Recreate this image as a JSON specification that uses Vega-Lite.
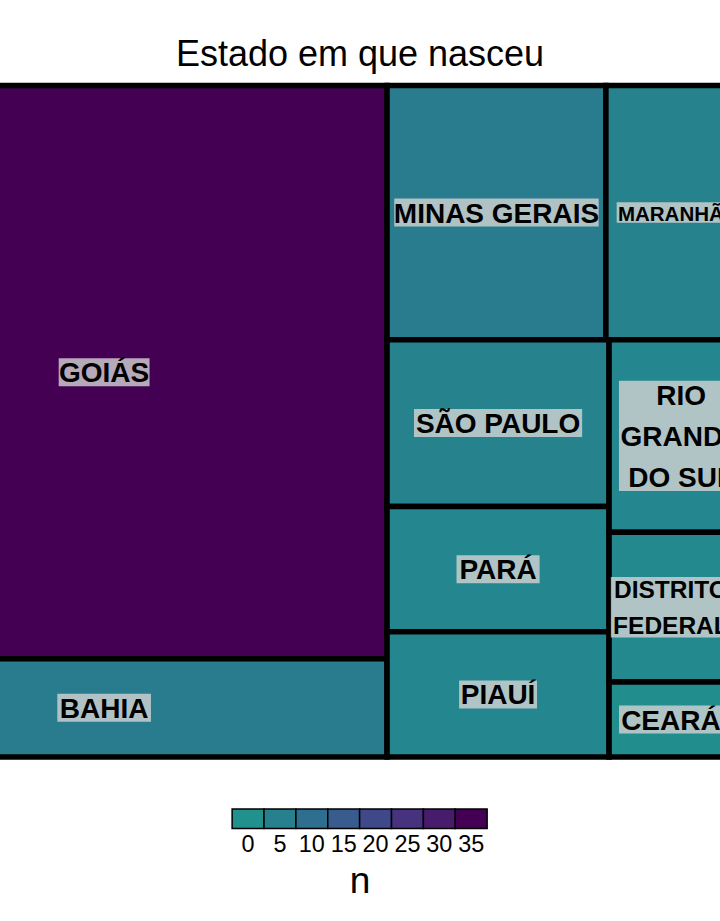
{
  "$schema": "https://vega.github.io/schema/vega-lite/v6.json",
  "background": "white",
  "padding": {"left": 0, "right": 0, "top": 37, "bottom": 0},
  "title": {"text": "Estado em que nasceu", "fontSize": 36, "font": "Liberation Sans", "fontWeight": "normal", "color": "black", "anchor": "middle", "offset": 7},
  "config": {"view": {"stroke": null}},
  "vconcat": [
    {
      "width": 720,
      "height": 680,
      "data": {"values": [
        {"estado": "GOIÁS", "n": 35, "x0": 0, "x1": 0.525641, "y0": 0, "y1": 0.853659},
        {"estado": "BAHIA", "n": 6, "x0": 0, "x1": 0.525641, "y0": 0.853659, "y1": 1},
        {"estado": "MINAS GERAIS", "n": 6, "x0": 0.525641, "x1": 0.728938, "y0": 0, "y1": 0.378378},
        {"estado": "MARANHÃO", "n": 4, "x0": 0.728938, "x1": 0.864469, "y0": 0, "y1": 0.378378},
        {"estado": "SÃO PAULO", "n": 4, "x0": 0.525641, "x1": 0.731884, "y0": 0.378378, "y1": 0.627027},
        {"estado": "PARÁ", "n": 3, "x0": 0.525641, "x1": 0.731884, "y0": 0.627027, "y1": 0.813514},
        {"estado": "PIAUÍ", "n": 3, "x0": 0.525641, "x1": 0.731884, "y0": 0.813514, "y1": 1},
        {"estado": "RIO GRANDE DO SUL", "n": 3, "x0": 0.731884, "x1": 0.865942, "y0": 0.378378, "y1": 0.665281},
        {"estado": "DISTRITO FEDERAL", "n": 2, "x0": 0.731884, "x1": 0.846791, "y0": 0.665281, "y1": 0.888427},
        {"estado": "CEARÁ", "n": 1, "x0": 0.731884, "x1": 0.846791, "y0": 0.888427, "y1": 1}
      ]},
      "transform": [
        {"calculate": "(datum.x0 + datum.x1) / 2", "as": "xm"},
        {"calculate": "(datum.y0 + datum.y1) / 2", "as": "ym"},
        {"calculate": "datum.estado == 'RIO GRANDE DO SUL' ? 'RIO\\nGRANDE\\nDO SUL' : datum.estado == 'DISTRITO FEDERAL' ? 'DISTRITO\\nFEDERAL' : datum.estado", "as": "txt"},
        {"calculate": "datum.estado == 'MARANHÃO' ? 20.5 : datum.estado == 'DISTRITO FEDERAL' ? 24.5 : 28", "as": "fs"},
        {"calculate": "split(datum.txt, '\\n')", "as": "L"},
        {"calculate": "length(datum.L)", "as": "nl"},
        {"calculate": "datum.fs * 1.47", "as": "lh"},
        {"calculate": "(0.74*length(datum.L[0]) - 0.1*(length(datum.L[0]) - length(replace(datum.L[0], regexp('[EFLTPSÉ]', 'g'), ''))) - 0.462*(length(datum.L[0]) - length(replace(datum.L[0], regexp('[IÍ ]', 'g'), ''))))", "as": "w0"},
        {"calculate": "datum.nl > 1 ? (0.74*length(datum.L[1]) - 0.1*(length(datum.L[1]) - length(replace(datum.L[1], regexp('[EFLTPSÉ]', 'g'), ''))) - 0.462*(length(datum.L[1]) - length(replace(datum.L[1], regexp('[IÍ ]', 'g'), '')))) : 0", "as": "w1"},
        {"calculate": "datum.nl > 2 ? (0.74*length(datum.L[2]) - 0.1*(length(datum.L[2]) - length(replace(datum.L[2], regexp('[EFLTPSÉ]', 'g'), ''))) - 0.462*(length(datum.L[2]) - length(replace(datum.L[2], regexp('[IÍ ]', 'g'), '')))) : 0", "as": "w2"},
        {"calculate": "datum.fs * max(datum.w0, datum.w1, datum.w2) + 3", "as": "bw"},
        {"calculate": "datum.fs + (datum.nl - 1) * datum.lh", "as": "bh"}
      ],
      "layer": [
        {
          "mark": {"type": "rect", "stroke": "black", "strokeWidth": 5.5, "clip": true},
          "encoding": {
            "x": {"field": "x0", "type": "quantitative", "scale": {"domain": [0.16609, 0.83493], "nice": false, "zero": false}, "axis": null},
            "x2": {"field": "x1"},
            "y": {"field": "y0", "type": "quantitative", "scale": {"domain": [-0.006851, 1.005958], "nice": false, "zero": false, "reverse": true}, "axis": null},
            "y2": {"field": "y1"},
            "color": {"field": "n", "type": "quantitative", "scale": {"domain": [0, 35], "scheme": {"name": "viridis", "extent": [0.5, 0]}}, "legend": null}
          }
        },
        {
          "mark": {"type": "rect", "fill": "#D3D3D3", "fillOpacity": 0.8, "clip": true, "width": {"expr": "datum.bw"}, "height": {"expr": "datum.bh"}},
          "encoding": {
            "x": {"field": "xm", "type": "quantitative", "scale": {"domain": [0.16609, 0.83493], "nice": false, "zero": false}, "axis": null},
            "y": {"field": "ym", "type": "quantitative", "scale": {"domain": [-0.006851, 1.005958], "nice": false, "zero": false, "reverse": true}, "axis": null}
          }
        },
        {
          "mark": {"type": "text", "font": "Liberation Sans", "fontWeight": "bold", "color": "black", "align": "center", "baseline": "middle", "lineBreak": "\n", "lineHeight": {"expr": "datum.lh"}, "dy": {"expr": "2 - (datum.nl - 1) * datum.lh / 2"}, "clip": true},
          "encoding": {
            "x": {"field": "xm", "type": "quantitative", "scale": {"domain": [0.16609, 0.83493], "nice": false, "zero": false}, "axis": null},
            "y": {"field": "ym", "type": "quantitative", "scale": {"domain": [-0.006851, 1.005958], "nice": false, "zero": false, "reverse": true}, "axis": null},
            "text": {"field": "txt", "type": "nominal"},
            "size": {"field": "fs", "type": "quantitative", "scale": null, "legend": null}
          }
        }
      ]
    },
    {
      "width": 255,
      "height": 19.5,
      "data": {"values": [{"n": 0}, {"n": 5}, {"n": 10}, {"n": 15}, {"n": 20}, {"n": 25}, {"n": 30}, {"n": 35}]},
      "mark": {"type": "rect", "stroke": "black", "strokeWidth": 1.5},
      "encoding": {
        "x": {"field": "n", "type": "ordinal", "scale": {"paddingInner": 0, "paddingOuter": 0},
              "axis": {"title": "n", "orient": "bottom", "ticks": false, "tickSize": 0, "domain": false, "labelAngle": 0, "labelFontSize": 23.4, "labelFont": "Liberation Sans", "labelColor": "black", "labelPadding": 5, "titleFontSize": 37, "titleFont": "Liberation Sans", "titleFontWeight": "normal", "titleColor": "black", "titlePadding": 8}},
        "color": {"field": "n", "type": "quantitative", "scale": {"domain": [0, 35], "scheme": {"name": "viridis", "extent": [0.5, 0]}}, "legend": null}
      }
    }
  ],
  "spacing": 47,
  "center": true
}
